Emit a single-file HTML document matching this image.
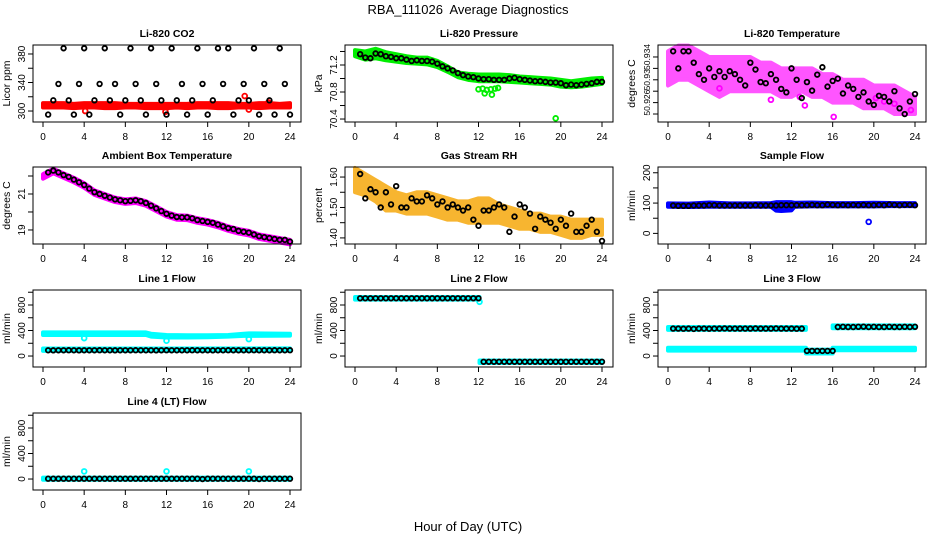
<!DOCTYPE html>
<html><head><meta charset="utf-8"><title>RBA_111026 Average Diagnostics</title>
<style>
html,body{margin:0;padding:0;background:#fff;}
svg{display:block;font-family:"Liberation Sans",Arial,sans-serif;}
</style></head>
<body>
<svg id="chart" width="936" height="540" viewBox="0 0 936 540" xmlns="http://www.w3.org/2000/svg">
<text x="468" y="14" text-anchor="middle" font-size="13">RBA_111026&#160; Average Diagnostics</text>
<text x="468" y="531" text-anchor="middle" font-size="13">Hour of Day (UTC)</text>
</svg>
<script>
// ---------- data ----------
const times48 = Array.from({length:48},(_,i)=>(i+1)*0.5);
const hours25 = Array.from({length:25},(_,i)=>i);
const xTicks = [0,4,8,12,16,20,24];

const co2Black = [295,315,338,388,315,295,338,388,295,315,338,388,315,338,295,315,388,338,315,295,388,338,315,295,388,315,338,295,315,388,338,295,315,388,338,388,295,315,338,315,388,295,338,315,295,388,338,295];
const co2Lo = [305,305,305,304,305,305,304,304,305,305,304,304,304,305,304,305,305,304,304,305,305,304,305,305,305];
const co2Hi = [311,311,311,310,311,311,311,311,310,310,310,310,310,310,310,311,311,311,311,310,310,311,311,310,311];
const co2RedT = [4.1,11.9,19.6,20,21.9];
const co2RedV = [300,299,321,302,312];

const prBlack = [71.36,71.31,71.30,71.37,71.36,71.33,71.32,71.30,71.30,71.28,71.26,71.27,71.26,71.26,71.25,71.22,71.18,71.15,71.12,71.08,71.05,71.03,71.02,71.00,70.99,70.99,70.98,70.98,70.98,71.00,71.01,70.99,70.98,70.97,70.96,70.96,70.95,70.94,70.94,70.93,70.90,70.91,70.90,70.91,70.92,70.93,70.95,70.95];
const prLo = [71.33,71.28,71.30,71.27,71.25,71.23,71.22,71.21,71.17,71.10,71.02,70.98,70.96,70.96,70.96,70.95,70.94,70.93,70.92,70.91,70.88,70.87,70.88,70.90,70.92];
const prHi = [71.42,71.40,71.44,71.39,71.36,71.33,71.31,71.31,71.26,71.18,71.09,71.07,71.06,71.06,71.06,71.05,71.03,71.02,71.01,71.00,70.98,70.96,70.98,71.00,71.01];
const prGreenT = [12,12.4,12.8,13.2,13.6,13.9,12.6,13.3,19.5];
const prGreenV = [70.84,70.85,70.83,70.84,70.85,70.86,70.78,70.76,70.41];

const tmBlack = [50.9350,50.9320,50.9350,50.9350,50.9330,50.9310,50.9300,50.9320,50.9305,50.9315,50.9305,50.9315,50.9310,50.9300,50.9290,50.9330,50.9318,50.9296,50.9294,50.9310,50.9300,50.9284,50.9278,50.9320,50.9300,50.9268,50.9296,50.9281,50.9309,50.9322,50.9288,50.9298,50.9302,50.9276,50.9290,50.9284,50.9270,50.9278,50.9262,50.9256,50.9272,50.9270,50.9262,50.9280,50.9250,50.9240,50.9262,50.9275];
const tmLo = [50.929,50.930,50.930,50.929,50.928,50.927,50.928,50.928,50.928,50.928,50.928,50.927,50.927,50.928,50.927,50.927,50.926,50.926,50.926,50.925,50.925,50.925,50.924,50.924,50.924];
const tmHi = [50.935,50.936,50.936,50.935,50.934,50.934,50.934,50.934,50.934,50.933,50.933,50.932,50.932,50.932,50.932,50.931,50.931,50.930,50.930,50.930,50.929,50.929,50.929,50.928,50.927];
const tmMagT = [5,10,12.8,13.3,16.1,20.2,21,22,23.6];
const tmMagV = [50.9285,50.9265,50.927,50.9255,50.9235,50.9268,50.9262,50.9258,50.9247];

const abBlack = [22.2,22.3,22.2,22.05,21.95,21.8,21.65,21.5,21.3,21.1,21.0,20.9,20.8,20.7,20.65,20.6,20.62,20.65,20.6,20.5,20.35,20.2,20.05,19.9,19.8,19.72,19.7,19.7,19.65,19.55,19.5,19.45,19.4,19.3,19.2,19.1,19.05,18.95,18.9,18.85,18.75,18.65,18.6,18.55,18.5,18.45,18.45,18.35];
const abLo = [21.85,22.15,21.9,21.65,21.35,20.95,20.75,20.55,20.45,20.5,20.35,20.05,19.75,19.57,19.55,19.4,19.3,19.15,18.95,18.8,18.7,18.5,18.4,18.3,18.2];
const abHi = [22.1,22.4,22.15,21.9,21.6,21.2,21.0,20.8,20.7,20.75,20.6,20.3,20.0,19.82,19.8,19.65,19.55,19.4,19.2,19.05,18.95,18.75,18.65,18.55,18.45];

const rhBlack = [1.61,1.53,1.56,1.55,1.50,1.55,1.51,1.57,1.50,1.50,1.53,1.52,1.52,1.54,1.53,1.51,1.52,1.50,1.51,1.50,1.49,1.50,1.46,1.44,1.49,1.49,1.50,1.51,1.50,1.42,1.47,1.51,1.50,1.48,1.43,1.47,1.46,1.45,1.43,1.46,1.44,1.48,1.42,1.42,1.44,1.46,1.42,1.39];
const rhLo = [1.55,1.54,1.52,1.49,1.49,1.48,1.48,1.48,1.47,1.46,1.46,1.45,1.45,1.45,1.45,1.44,1.43,1.43,1.42,1.42,1.41,1.40,1.40,1.41,1.41];
const rhHi = [1.63,1.61,1.59,1.57,1.55,1.54,1.55,1.55,1.54,1.53,1.52,1.52,1.53,1.53,1.51,1.50,1.49,1.48,1.48,1.47,1.47,1.46,1.46,1.46,1.46];

const sfBlack = [92,91,91,91,92,92,92,93,93,92,92,92,92,92,92,92,93,92,92,92,92,93,93,93,93,93,93,94,93,93,95,94,93,94,93,94,93,94,93,93,94,93,95,94,93,94,94,93];
const sfBandT = [0,2,4,6,8,10,10.5,11,12,12.3,14,16,18,20,22,24];
const sfLo = [88,87,88,88,88,88,75,74,76,88,89,89,89,89,90,90];
const sfHi = [99,98,102,99,99,100,103,103,103,101,102,100,100,101,100,100];
const sfBlueT = [19.5];
const sfBlueV = [38];

const l1Black = [90,89,90,90,91,90,89,90,90,90,91,90,90,89,90,90,90,91,90,90,90,89,90,91,90,90,90,90,91,90,90,90,89,90,90,91,90,90,90,90,91,90,90,90,91,90,90,91];
const l1UpT = [0,4,8,10,10.5,12,14,16,18,19.5,20,24];
const l1UpLo = [330,330,330,330,305,290,290,295,305,315,315,320];
const l1UpHi = [370,370,370,370,350,330,325,325,330,350,355,350];
const l1LowT = [0,12,24];
const l1LowLo = [80,80,82];
const l1LowHi = [118,118,120];
const l1CyanT = [4,12,20];
const l1CyanV = [280,240,265];

const l2Black = [905,905,905,905,905,905,905,905,905,905,905,905,905,905,905,905,905,905,905,905,905,905,905,905,-90,-90,-90,-90,-90,-90,-90,-90,-90,-90,-90,-90,-90,-90,-90,-90,-90,-90,-90,-90,-90,-90,-90,-90];
const l2aT = [0,12.1], l2aLo = [885,885], l2aHi = [925,925];
const l2bT = [12.1,24], l2bLo = [-110,-110], l2bHi = [-70,-70];
const l2CyanT = [12.1];
const l2CyanV = [850];

const l3Black = [430,430,428,430,425,430,430,428,430,430,432,430,430,430,430,430,432,430,430,430,432,430,430,430,428,430,80,80,80,80,80,80,455,458,455,455,458,460,455,458,455,455,458,455,455,458,455,458];
const l3aT = [0,13.4], l3aLo = [410,410], l3aHi = [455,455];
const l3bT = [0,13.4], l3bLo = [85,85], l3bHi = [130,130];
const l3cT = [13.4,16], l3cLo = [40,40], l3cHi = [100,100];
const l3dT = [16,24], l3dLo = [435,435], l3dHi = [480,480];
const l3eT = [16,24], l3eLo = [90,90], l3eHi = [130,130];

const l4Black = [5,5,5,5,5,5,5,5,5,5,5,5,5,5,5,5,5,5,5,5,5,5,5,5,5,5,5,5,5,5,0,5,5,5,5,5,5,5,5,5,5,0,5,5,5,5,5,5];
const l4BandT = [0,24], l4Lo = [-12,-12], l4Hi = [22,22];
const l4CyanT = [4,12,20];
const l4CyanV = [120,120,120];

// ---------- rendering ----------
const NS = 'http://www.w3.org/2000/svg';
const svg = document.getElementById('chart');
const colLeft = [33,345,658], rowTop = [45,167,290,413];
const W = 268, H = 77;
function mk(tag, attrs, parent){ const e=document.createElementNS(NS,tag); for(const k in attrs) e.setAttribute(k,attrs[k]); (parent||svg).appendChild(e); return e; }

function panel(p){
  const L = colLeft[p.col], T = rowTop[p.row];
  const g = mk('g',{});
  
  
  const xs = t => L + 10 + t*(247/24);
  const ys = v => T + H - (v - p.ymin)/(p.ymax - p.ymin)*H;
  const tt = mk('text',{x:L+W/2,y:T-8,'text-anchor':'middle','font-size':10.5,'font-weight':'bold'},g);
  tt.textContent = p.title;
  
  
  const yl = mk('text',{x:0,y:0,'text-anchor':'middle','font-size':10.5,transform:`translate(${L-23},${T+H/2}) rotate(-90)`},g);
  yl.textContent = p.ylab;
  
  
  (p.bands||[]).forEach(b=>{
    let pts=[]; b.t.forEach((t,i)=>pts.push(xs(t)+','+ys(b.hi[i])));
    for(let i=b.t.length-1;i>=0;i--) pts.push(xs(b.t[i])+','+ys(b.lo[i]));
    const pg = mk('polygon',{points:pts.join(' '),fill:b.color,stroke:b.color,'stroke-width':4,'stroke-linejoin':'round'},g);
    
    
  });
  (p.extra||[]).forEach(e=>{
    e.t.forEach((t,i)=>{
      const c = mk('circle',{cx:xs(t),cy:ys(e.v[i]),r:2.4,fill:'none',stroke:e.color,'stroke-width':1.8},g);
      
      
    });
  });
  p.black.forEach((v,i)=>{
    const c = mk('circle',{cx:xs(times48[i]),cy:ys(v),r:2.3,fill:'none',stroke:'#000','stroke-width':1.8},g);
    
    
  });
  const bx = mk('rect',{x:L,y:T,width:W,height:H,fill:'none',stroke:'#000','stroke-width':1},g);
  
  
  mk('line',{x1:xs(0),x2:xs(24),y1:T+H,y2:T+H,stroke:'#000'},g);
  xTicks.forEach(t=>{
    mk('line',{x1:xs(t),x2:xs(t),y1:T+H,y2:T+H+5,stroke:'#000'},g);
    const lt = mk('text',{x:xs(t),y:T+H+18,'text-anchor':'middle','font-size':10},g);
    lt.textContent = t;
    
    
  });
  const yt = p.yticks;
  mk('line',{x1:L,x2:L,y1:ys(yt[0]),y2:ys(yt[yt.length-1]),stroke:'#000'},g);
  yt.forEach(v=>{ mk('line',{x1:L-5,x2:L,y1:ys(v),y2:ys(v),stroke:'#000'},g); });
  p.ylabels.forEach((v,i)=>{
    const lt = mk('text',{x:0,y:0,'text-anchor':'middle','font-size':p.yfs||10,transform:`translate(${L-8},${ys(v)}) rotate(-90)`},g);
    lt.textContent = p.ylabelText ? p.ylabelText[i] : v;
    
    
  });
}

const CY='#00ffff';
const flowTicks=[0,200,400,600,800,1000], flowLabels=[0,400,800];
const panels = [
 {name:'co2-panel',col:0,row:0,title:'Li-820 CO2',ylab:'Licor ppm',ymin:284.6,ymax:392.6,yticks:[300,320,340,360,380],ylabels:[300,340,380],
  black:co2Black,bands:[{t:hours25,lo:co2Lo,hi:co2Hi,color:'#ff0000'}],extra:[{t:co2RedT,v:co2RedV,color:'#ff0000'}]},
 {name:'pressure-panel',col:1,row:0,title:'Li-820 Pressure',ylab:'kPa',ymin:70.356,ymax:71.496,yticks:[70.4,70.6,70.8,71.0,71.2,71.4],ylabels:[70.4,70.8,71.2],ylabelText:['70.4','70.8','71.2'],
  black:prBlack,bands:[{t:hours25,lo:prLo,hi:prHi,color:'#00ee00'}],extra:[{t:prGreenT,v:prGreenV,color:'#00ee00'}]},
 {name:'li820-temperature-panel',col:2,row:0,title:'Li-820 Temperature',ylab:'degrees C',ymin:50.9226,ymax:50.9361,yticks:[50.924,50.926,50.928,50.93,50.932,50.934],ylabels:[50.934,50.93,50.926],ylabelText:['50.934','50.93','50.926'],yfs:8.5,
  black:tmBlack,bands:[{t:hours25,lo:tmLo,hi:tmHi,color:'#ff55ff'}],extra:[{t:tmMagT,v:tmMagV,color:'#ff00ff'}]},
 {name:'ambient-temperature-panel',col:0,row:1,title:'Ambient Box Temperature',ylab:'degrees C',ymin:18.22,ymax:22.5,yticks:[19,20,21,22],ylabels:[19,21],
  black:abBlack,bands:[{t:hours25,lo:abLo,hi:abHi,color:'#ff00ff'}]},
 {name:'gas-rh-panel',col:1,row:1,title:'Gas Stream RH',ylab:'percent',ymin:1.38,ymax:1.633,yticks:[1.40,1.45,1.50,1.55,1.60],ylabels:[1.40,1.50,1.60],ylabelText:['1.40','1.50','1.60'],
  black:rhBlack,bands:[{t:hours25,lo:rhLo,hi:rhHi,color:'#f7b530'}]},
 {name:'sample-flow-panel',col:2,row:1,title:'Sample Flow',ylab:'ml/min',ymin:-35,ymax:219,yticks:[0,50,100,150,200],ylabels:[0,100,200],
  black:sfBlack,bands:[{t:sfBandT,lo:sfLo,hi:sfHi,color:'#0000ff'}],extra:[{t:sfBlueT,v:sfBlueV,color:'#0000ff'}]},
 {name:'line1-flow-panel',col:0,row:2,title:'Line 1 Flow',ylab:'ml/min',ymin:-172,ymax:1035,yticks:flowTicks,ylabels:flowLabels,
  black:l1Black,bands:[{t:l1UpT,lo:l1UpLo,hi:l1UpHi,color:CY},{t:l1LowT,lo:l1LowLo,hi:l1LowHi,color:CY}],extra:[{t:l1CyanT,v:l1CyanV,color:CY}]},
 {name:'line2-flow-panel',col:1,row:2,title:'Line 2 Flow',ylab:'ml/min',ymin:-172,ymax:1035,yticks:flowTicks,ylabels:flowLabels,
  black:l2Black,bands:[{t:l2aT,lo:l2aLo,hi:l2aHi,color:CY},{t:l2bT,lo:l2bLo,hi:l2bHi,color:CY}],extra:[{t:l2CyanT,v:l2CyanV,color:CY}]},
 {name:'line3-flow-panel',col:2,row:2,title:'Line 3 Flow',ylab:'ml/min',ymin:-172,ymax:1035,yticks:flowTicks,ylabels:flowLabels,
  black:l3Black,bands:[{t:l3aT,lo:l3aLo,hi:l3aHi,color:CY},{t:l3bT,lo:l3bLo,hi:l3bHi,color:CY},{t:l3cT,lo:l3cLo,hi:l3cHi,color:CY},{t:l3dT,lo:l3dLo,hi:l3dHi,color:CY},{t:l3eT,lo:l3eLo,hi:l3eHi,color:CY}]},
 {name:'line4-flow-panel',col:0,row:3,title:'Line 4 (LT) Flow',ylab:'ml/min',ymin:-172,ymax:1035,yticks:flowTicks,ylabels:flowLabels,
  black:l4Black,bands:[{t:l4BandT,lo:l4Lo,hi:l4Hi,color:CY}],extra:[{t:l4CyanT,v:l4CyanV,color:CY}]}
];
panels.forEach(panel);
</script>
</body></html>
